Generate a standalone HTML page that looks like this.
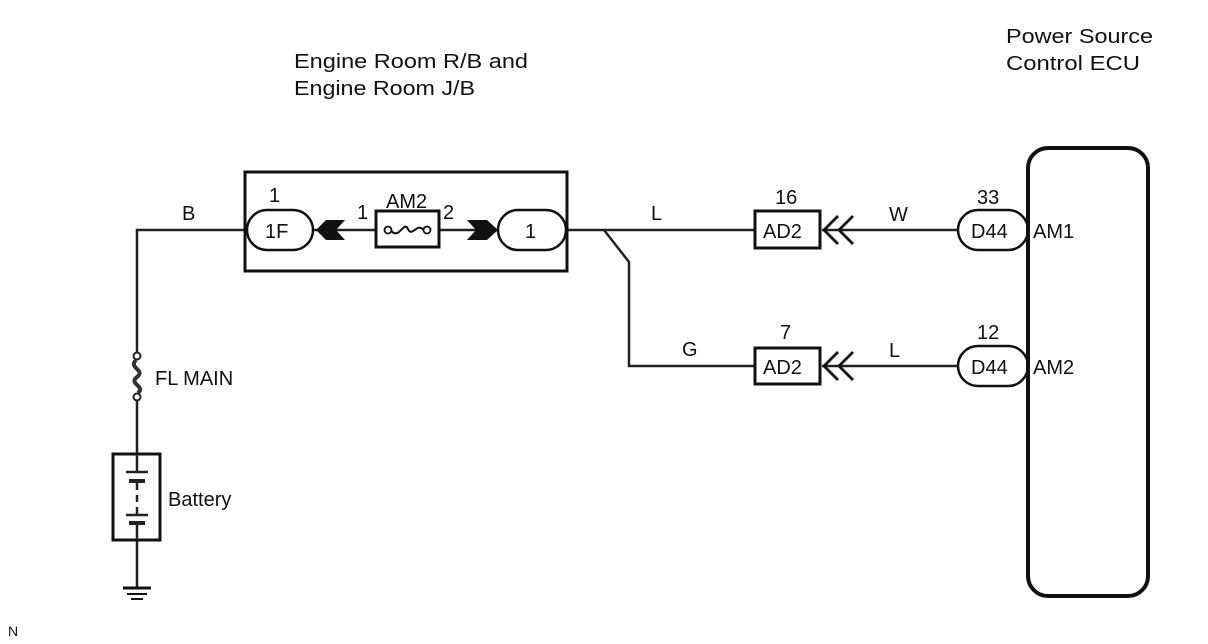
<!DOCTYPE html>
<html><head><style>body{margin:0;background:#fff}svg{display:block}text{font-family:"Liberation Sans",sans-serif;fill:#111}</style></head>
<body>
<svg width="1208" height="644" viewBox="0 0 1208 644" xmlns="http://www.w3.org/2000/svg">
<g font-size="20">
<text x="294" y="68" textLength="234" lengthAdjust="spacingAndGlyphs">Engine Room R/B and</text>
<text x="294" y="95" textLength="181" lengthAdjust="spacingAndGlyphs">Engine Room J/B</text>
<text x="1006" y="43" textLength="147" lengthAdjust="spacingAndGlyphs">Power Source</text>
<text x="1006" y="70" textLength="134" lengthAdjust="spacingAndGlyphs">Control ECU</text>
</g>
<g stroke="#222" fill="none" stroke-width="2.5">
<polyline points="245,230 137,230 137,352"/>
<line x1="137" y1="400" x2="137" y2="588"/>
<line x1="313" y1="230" x2="498" y2="230"/>
<line x1="566" y1="230" x2="755" y2="230"/>
<polyline points="604,230 629,262 629,366 755,366"/>
<line x1="822" y1="230" x2="960" y2="230"/>
<line x1="822" y1="366" x2="960" y2="366"/>
</g>
<rect x="245" y="172" width="322" height="99" fill="none" stroke="#111" stroke-width="3"/>
<rect x="247" y="210" width="66" height="40" rx="20" fill="#fff" stroke="#111" stroke-width="2.5"/>
<rect x="498" y="210" width="68" height="40" rx="20" fill="#fff" stroke="#111" stroke-width="2.5"/>
<polygon points="316,230 326,220 345,220 336,230 345,240 326,240" fill="#111"/>
<polygon points="467,220 487,220 498,230 487,240 467,240 476,230" fill="#111"/>
<rect x="376" y="211" width="63" height="36" fill="#fff" stroke="#111" stroke-width="3"/>
<circle cx="388" cy="230" r="3.5" fill="#fff" stroke="#111" stroke-width="1.8"/>
<circle cx="427" cy="230" r="3.5" fill="#fff" stroke="#111" stroke-width="1.8"/>
<path d="M391.5,231 C399,240 404,220 408,229 C412,238 417,222 423.5,230" fill="none" stroke="#111" stroke-width="2"/>
<g font-size="20">
<text x="269" y="202">1</text>
<text x="265" y="238">1F</text>
<text x="386" y="208">AM2</text>
<text x="357" y="219">1</text>
<text x="443" y="219">2</text>
<text x="525" y="238">1</text>
<text x="182" y="220">B</text>
<text x="651" y="220">L</text>
<text x="682" y="356">G</text>
<text x="889" y="221">W</text>
<text x="889" y="357">L</text>
<text x="775" y="204">16</text>
<text x="780" y="339">7</text>
<text x="977" y="204">33</text>
<text x="977" y="339">12</text>
<text x="1033" y="238">AM1</text>
<text x="1033" y="374">AM2</text>
<text x="155" y="385">FL MAIN</text>
<text x="168" y="506">Battery</text>
</g>
<g stroke="#111" stroke-width="3" fill="#fff">
<rect x="755" y="211" width="65" height="37"/>
<rect x="755" y="348" width="65" height="36"/>
</g>
<g font-size="20"><text x="763" y="238">AD2</text><text x="763" y="374">AD2</text></g>
<g stroke="#111" stroke-width="2.8" fill="none">
<polyline points="838,216 824,230 838,244"/>
<polyline points="853,216 839,230 853,244"/>
<polyline points="838,352 824,366 838,380"/>
<polyline points="853,352 839,366 853,380"/>
</g>
<rect x="1028" y="148" width="120" height="448" rx="20" fill="none" stroke="#111" stroke-width="4"/>
<rect x="958" y="210" width="70" height="40" rx="20" fill="#fff" stroke="#111" stroke-width="2.5"/>
<rect x="958" y="346" width="70" height="40" rx="20" fill="#fff" stroke="#111" stroke-width="2.5"/>
<line x1="1028" y1="200" x2="1028" y2="400" stroke="#111" stroke-width="4"/>
<g font-size="20"><text x="971" y="238">D44</text><text x="971" y="374">D44</text></g>
<circle cx="137" cy="356" r="3.5" fill="#fff" stroke="#222" stroke-width="2"/>
<circle cx="137" cy="397" r="3.5" fill="#fff" stroke="#222" stroke-width="2"/>
<path d="M136,360 C128,368 146,370 137,377 C128,384 146,386 138,393" fill="none" stroke="#333" stroke-width="4"/>
<rect x="113" y="454" width="47" height="86" fill="#fff" stroke="#111" stroke-width="3"/>
<g stroke="#222" stroke-width="2.5">
<line x1="137" y1="454" x2="137" y2="471"/>
<line x1="126" y1="472" x2="148" y2="472"/>
<line x1="129" y1="481" x2="145" y2="481" stroke-width="4"/>
<line x1="137" y1="483" x2="137" y2="490"/>
<line x1="137" y1="495" x2="137" y2="502"/>
<line x1="137" y1="507" x2="137" y2="514"/>
<line x1="126" y1="515" x2="148" y2="515"/>
<line x1="129" y1="523" x2="145" y2="523" stroke-width="4"/>
<line x1="137" y1="525" x2="137" y2="540"/>
</g>
<g stroke="#111">
<line x1="123" y1="588" x2="151" y2="588" stroke-width="3"/>
<line x1="127" y1="594" x2="147" y2="594" stroke-width="2"/>
<line x1="131" y1="599" x2="143" y2="599" stroke-width="2"/>
</g>
<text x="8" y="636" font-size="14">N</text>
</svg>
</body></html>
